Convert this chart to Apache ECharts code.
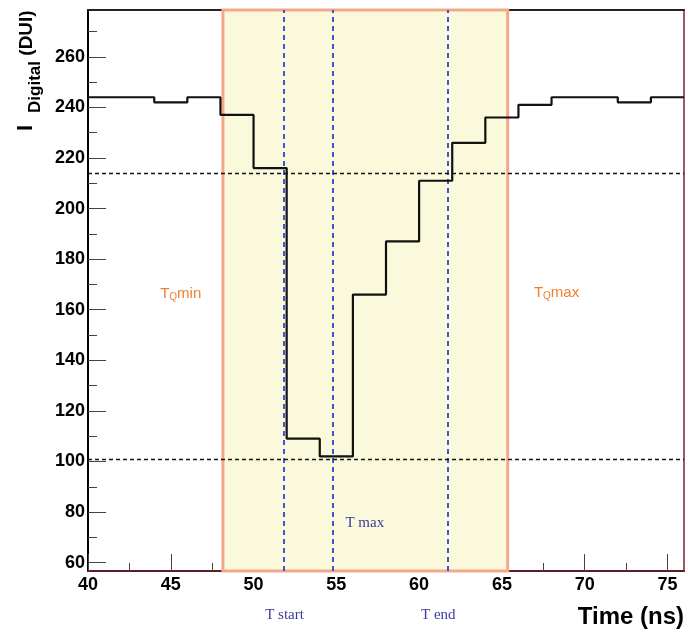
<!DOCTYPE html>
<html>
<head>
<meta charset="utf-8">
<script src="https://cdn.jsdelivr.net/npm/echarts@6/dist/echarts.min.js"></script>
<style>
html,body{margin:0;padding:0;background:#fff;}
#chart{width:688px;height:634px;}
</style>
</head>
<body>
<div id="chart"></div>
<script>
// ---- data ----
const binStart = [40, 42, 44, 46, 48, 50, 52, 54, 56, 58, 60, 62, 64, 66, 68, 70, 72, 74];
const counts   = [244, 244, 242, 244, 237, 216, 109, 102, 166, 187, 211, 226, 236, 241, 244, 244, 242, 244];
const binEnd = 76;
const xRange = [40, 76];
const yRange = [56.7, 278.5];
const xTicks = [40, 45, 50, 55, 60, 65, 70, 75];
const xMinorTicks = [42.5, 47.5, 52.5, 57.5, 62.5, 67.5, 72.5];
const yTicks = [60, 80, 100, 120, 140, 160, 180, 200, 220, 240, 260];
const yMinorTicks = [70, 90, 110, 130, 150, 170, 190, 210, 230, 250, 270];
const windowRange = [48.15, 65.35];
const markerNames = ['T start', 'T max', 'T end'];
const markerTimes = [51.83, 54.77, 61.74];
const thresholds = [214, 101];

const lineData = binStart.map((x, i) => [x, counts[i]]).concat([[binEnd, counts[counts.length - 1]]]);

const FONT = '"Liberation Sans", Helvetica, Arial, sans-serif';
const SERIF = '"Liberation Serif", "Times New Roman", serif';
const chart = echarts.init(document.getElementById('chart'), null, {renderer: 'canvas'});

const baseX = {type: 'value', min: xRange[0], max: xRange[1], splitLine: {show: false}, gridIndex: 0};
const baseY = {type: 'value', min: yRange[0], max: yRange[1], splitLine: {show: false}, gridIndex: 0};

chart.setOption({
  animation: false,
  backgroundColor: '#fff',
  grid: {left: 88, right: 4, top: 10, bottom: 63, show: true, borderColor: '#7a2535', borderWidth: 1.5, backgroundColor: 'transparent'},
  xAxis: [
    Object.assign({}, baseX, {
      position: 'bottom',
      axisLine: {show: true, onZero: false, lineStyle: {color: '#5c1c24', width: 2}},
      axisTick: {show: true, inside: true, length: 17, customValues: xTicks, lineStyle: {color: '#444', width: 1}},
      axisLabel: {show: true, customValues: xTicks, margin: 5, color: '#000', fontFamily: FONT, fontWeight: 'bold', fontSize: 18}
    }),
    Object.assign({}, baseX, {
      position: 'bottom',
      axisLine: {show: false},
      axisTick: {show: true, inside: true, length: 8, customValues: xMinorTicks, lineStyle: {color: '#444', width: 1}},
      axisLabel: {show: false}
    }),
    Object.assign({}, baseX, {
      position: 'top',
      axisLine: {show: true, onZero: false, lineStyle: {color: '#2a2020', width: 2}},
      axisTick: {show: false},
      axisLabel: {show: false}
    })
  ],
  yAxis: [
    Object.assign({}, baseY, {
      position: 'left',
      axisLine: {show: true, onZero: false, lineStyle: {color: '#000', width: 2}},
      axisTick: {show: true, inside: true, length: 18, customValues: yTicks, lineStyle: {color: '#444', width: 1}},
      axisLabel: {show: true, customValues: yTicks, margin: 3, padding: [5, 0, 0, 0], color: '#000', fontFamily: FONT, fontWeight: 'bold', fontSize: 18}
    }),
    Object.assign({}, baseY, {
      position: 'left',
      axisLine: {show: false},
      axisTick: {show: true, inside: true, length: 9, customValues: yMinorTicks, lineStyle: {color: '#444', width: 1}},
      axisLabel: {show: false}
    })
  ],
  series: [
    {
      type: 'line',
      xAxisIndex: 0, yAxisIndex: 0,
      data: lineData,
      step: 'end',
      symbol: 'none',
      z: 5,
      lineStyle: {color: '#111', width: 2.2},
      markArea: {
        silent: true,
        itemStyle: {color: '#fbf9dc', borderColor: '#f5a78a', borderWidth: 3},
        data: [[{xAxis: windowRange[0]}, {xAxis: windowRange[1]}]]
      },
      markLine: {
        silent: true,
        symbol: 'none',
        label: {show: false},
        data: markerTimes.map(t => ({xAxis: t, lineStyle: {color: '#2b45d6', width: 1.8, type: [5, 4]}}))
          .concat(thresholds.map(v => ({yAxis: v, lineStyle: {color: '#111', width: 1.4, type: [4, 3]}})))
      }
    }
  ]
});

function px(x, y) { return chart.convertToPixel({gridIndex: 0}, [x, y]); }

const orange = '#ee7f2d';
const blue = '#3a3a9e';
const qRich = {
  t: {fontFamily: FONT, fontSize: 15, fill: orange, color: orange},
  q: {fontFamily: FONT, fontSize: 10, fill: orange, color: orange, padding: [6, 0, 0, 0]},
  m: {fontFamily: FONT, fontSize: 15, fill: orange, color: orange}
};
const pMin = px(45.6, 166.2);
const pMax = px(68.3, 166.6);
const pTmax = px(55.55, 75.7);
const pStart = px(51.87, yRange[0]);
const pEnd = px(61.16, yRange[0]);

chart.setOption({
  graphic: [
    {type: 'text', x: pMin[0], y: pMin[1], z: 20, style: {text: '{t|T}{q|Q}{m|min}', fill: orange, rich: qRich, textAlign: 'center', textVerticalAlign: 'middle'}},
    {type: 'text', x: pMax[0], y: pMax[1], z: 20, style: {text: '{t|T}{q|Q}{m|max}', fill: orange, rich: qRich, textAlign: 'center', textVerticalAlign: 'middle'}},
    {type: 'text', x: pTmax[0], y: pTmax[1], z: 20, style: {text: markerNames[1], fill: blue, font: '15px ' + SERIF, textAlign: 'left', textVerticalAlign: 'middle'}},
    {type: 'text', x: pStart[0], y: 615, z: 20, style: {text: markerNames[0], fill: blue, font: '15px ' + SERIF, textAlign: 'center', textVerticalAlign: 'middle'}},
    {type: 'text', x: pEnd[0], y: 615, z: 20, style: {text: markerNames[2], fill: blue, font: '15px ' + SERIF, textAlign: 'center', textVerticalAlign: 'middle'}},
    {type: 'text', x: 684, y: 617, z: 20, style: {text: 'Time (ns)', fill: '#000', font: 'bold 24px ' + FONT, textAlign: 'right', textVerticalAlign: 'middle'}},
    {type: 'text', x: 26, y: 128, rotation: Math.PI / 2, z: 20, style: {text: 'I', fill: '#000', font: 'bold 22px ' + FONT, textAlign: 'center', textVerticalAlign: 'middle'}},
    {type: 'text', x: 35, y: 87, rotation: Math.PI / 2, z: 20, style: {text: 'Digital', fill: '#000', font: 'bold 17px ' + FONT, textAlign: 'center', textVerticalAlign: 'middle'}},
    {type: 'text', x: 27, y: 33, rotation: Math.PI / 2, z: 20, style: {text: '(DUI)', fill: '#000', font: 'bold 19px ' + FONT, textAlign: 'center', textVerticalAlign: 'middle'}}
  ]
});
</script>
</body>
</html>
